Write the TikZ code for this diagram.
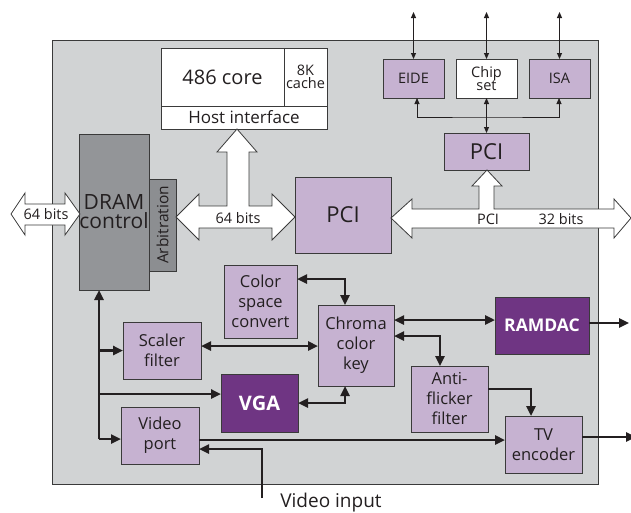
\documentclass[tikz,border=0pt]{standalone}
\usepackage{fontspec}
\setmainfont{Open Sans}
\usetikzlibrary{arrows.meta}
\definecolor{chipgray}{HTML}{D1D3D4}
\definecolor{lpurple}{HTML}{C6B2D1}
\definecolor{dpurple}{HTML}{6F3583}
\definecolor{dramgray}{HTML}{939598}
\definecolor{arbgray}{HTML}{8C8E91}
\definecolor{edge}{HTML}{3A3A3A}
\definecolor{ink}{HTML}{231F20}
\begin{document}
\begin{tikzpicture}[x=1pt,y=-1pt,
  box/.style={draw=edge, line width=0.8pt, inner sep=0pt, outer sep=0pt, align=center, text=ink},
  lbox/.style={box, fill=lpurple},
  dbox/.style={box, fill=dpurple, text=white},
  fa/.style={font=\fontsize{20}{22}\selectfont},
  fb/.style={font=\fontsize{16.5}{20}\selectfont},
  fc/.style={font=\fontsize{14.5}{16}\selectfont},
  conn/.style={draw=ink, line width=2.4pt, >={Triangle[length=10pt,width=9pt]}},
  thinconn/.style={draw=ink, line width=0.9pt, >={Triangle[length=6pt,width=5pt]}},
  hollow/.style={fill=white, draw=edge, line width=0.8pt, line join=miter}
]
\useasboundingbox (0,0) rectangle (631,512);
% chip outline
\node[box, fill=chipgray, minimum width=546, minimum height=444] (chip) at (325,262) {};
% host processor
\node[box, fill=white, fa, minimum width=123, minimum height=58] (core) at (222.5,77) {486 core};
\node[box, fill=white, font=\fontsize{14.5}{15}\selectfont, minimum width=43, minimum height=58] (cache) at (305.5,77) {8K\\[-2pt]cache};
\node[box, fill=white, font=\fontsize{17}{20}\selectfont, minimum width=166, minimum height=23] (host) at (244,117.5) {Host interface};
% DRAM
\node[box, fill=dramgray, font=\fontsize{21}{23}\selectfont, minimum width=70, minimum height=156] (dram) at (114,212) {DRAM\\[-4pt]control};
\node[box, fill=arbgray, minimum width=27, minimum height=92] (arb) at (162.5,225) {};
\node[font=\fontsize{15.5}{17}\selectfont, text=ink, rotate=90, inner sep=0pt] (arbt) at (arb.center) {Arbitration};
% PCI main
\node[lbox, font=\fontsize{22}{24}\selectfont, minimum width=96, minimum height=76] (pci) at (343,215) {PCI};
% south bridge
\node[lbox, fc, minimum width=61, minimum height=39] (eide) at (413.5,78.5) {EIDE};
\node[box, fill=white, fc, minimum width=61, minimum height=39] (chipset) at (486.5,78.5) {Chip\\[-3pt]set};
\node[lbox, fc, minimum width=61, minimum height=39] (isa) at (559.5,78.5) {ISA};
\node[lbox, font=\fontsize{22}{24}\selectfont, minimum width=85, minimum height=37] (spci) at (486.5,151.5) {PCI};
% video blocks
\node[lbox, fb, minimum width=73, minimum height=73] (color) at (260.5,301.5) {Color\\space\\convert};
\node[lbox, fb, minimum width=78, minimum height=57] (scaler) at (162,350.5) {Scaler\\filter};
\node[dbox, font=\fontsize{20}{22}\selectfont\bfseries, minimum width=77, minimum height=58] (vga) at (259.5,403) {VGA};
\node[lbox, fb, minimum width=78, minimum height=57] (vport) at (160,435.5) {Video\\port};
\node[lbox, fb, minimum width=76, minimum height=81] (chroma) at (356,345.5) {Chroma\\color\\key};
\node[dbox, font=\fontsize{17.5}{19}\selectfont\bfseries, minimum width=94, minimum height=57] (ramdac) at (542,325.5) {RAMDAC};
\node[lbox, fb, minimum width=77, minimum height=66] (anti) at (449.5,399) {Anti-\\flicker\\filter};
\node[lbox, fb, minimum width=77, minimum height=57] (tv) at (543.5,444.5) {TV\\encoder};
% hollow bus arrows
\draw[hollow] (11,214) -- (25,193) -- (25,204) -- (65,204) -- (65,193) -- (80,214) -- (65,235) -- (65,225) -- (25,225) -- (25,235) -- cycle;
\node[fc, text=ink] (l64a) at (46,214) {64 bits};
\draw[hollow] (176,217) -- (199,194) -- (199,206) -- (227,206) -- (227,152) -- (217,152) -- (237,129) -- (257,152) -- (249,152) -- (249,206) -- (272,206) -- (272,194) -- (295,217) -- (272,240) -- (272,228) -- (199,228) -- (199,240) -- cycle;
\node[fc, text=ink] (l64b) at (238,218) {64 bits};
\draw[hollow] (391,218) -- (412,199) -- (412,209) -- (479,209) -- (479,186) -- (472,186) -- (487,170) -- (502,186) -- (494,186) -- (494,209) -- (614,209) -- (614,199) -- (631,218) -- (614,238) -- (614,228) -- (412,228) -- (412,238) -- cycle;
\node[fc, text=ink] (lpci) at (488,219) {PCI};
\node[fc, text=ink] (l32) at (561,219) {32 bits};
% thin connectors at top
\coordinate (t1) at (413.5,12);
\coordinate (t2) at (486.5,12);
\coordinate (t3) at (559.5,12);
\draw[thinconn,<->] (eide.north) -- (t1);
\draw[thinconn,<->] (chipset.north) -- (t2);
\draw[thinconn,<->] (isa.north) -- (t3);
\coordinate (busmid) at (486.5,117);
\draw[thinconn,<->] (eide.south -| 417,0) |- (busmid) -| (isa.south -| 559,0);
\draw[thinconn,<->] (chipset.south) -- (spci.north);
% thick connectors
\coordinate (dv) at (99,439);
\draw[conn,->] (dv) -- (dv |- dram.south);
\draw[conn,->] (dv |- scaler.west) -- (scaler.west);
\draw[conn,->] (dv |- 0,394) -- (vga.west |- 0,394);
\draw[conn,->] (dv) -- (vport.west |- dv);
\draw[conn,<->] (scaler.east |- 0,346) -- (chroma.west |- 0,346);
\draw[conn,<->] (color.east |- 0,279) -| (chroma.north -| 345,0);
\draw[conn,<->] (vga.east |- 0,403) -| (chroma.south -| 345,0);
\draw[conn,<->] (chroma.east |- 0,320) -- (ramdac.west |- 0,320);
\coordinate (out1) at (629,323);
\draw[conn,->] (ramdac.east |- out1) -- (out1);
\draw[conn,<->] (chroma.east |- 0,336) -| (anti.north -| 440,0);
\draw[conn,->] (anti.east |- 0,389) -| (tv.north -| 531,0);
\draw[conn,->] (vport.east |- 0,440) -- (tv.west |- 0,440);
\coordinate (vin) at (262,498);
\draw[conn,->] (vin) |- (vport.east |- 0,449);
\coordinate (out2) at (636,437);
\draw[conn,->] (tv.east |- out2) -- (out2);
\node[font=\fontsize{19}{21}\selectfont, text=ink] (vinl) at (331,503) {Video input};
\end{tikzpicture}
\end{document}
